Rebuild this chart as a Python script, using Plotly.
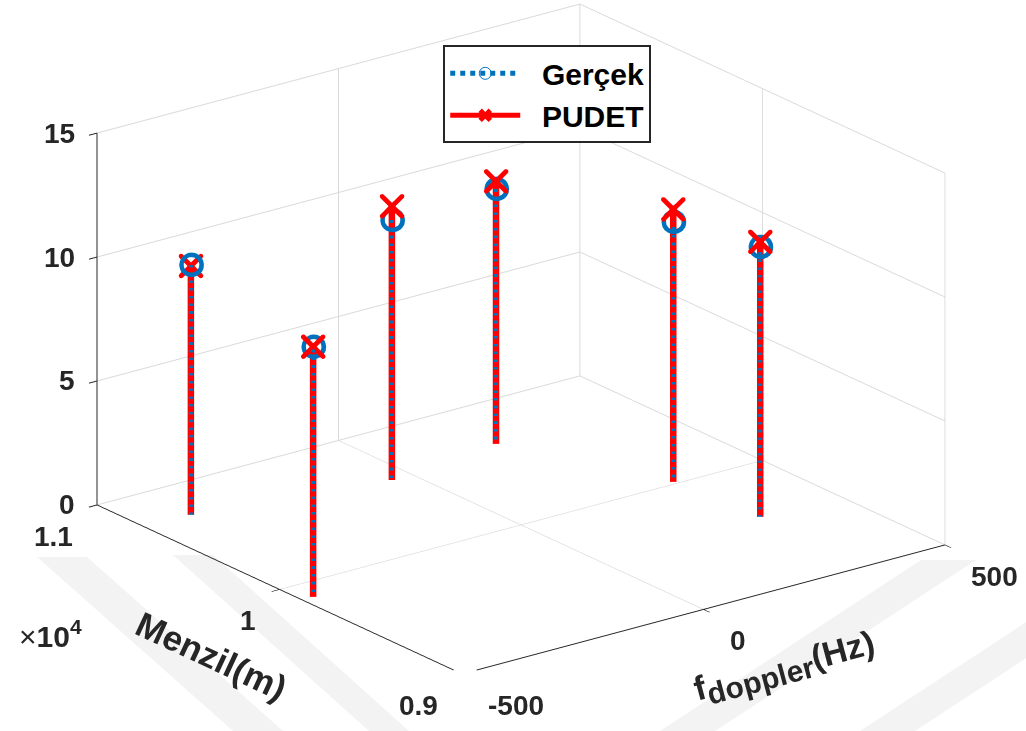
import plotly.graph_objects as go

# ---- data ----
doppler_hz = [-405, -477, -42, 197, 322, 337]
menzil_m = [10737, 9877, 10596, 10658, 10018, 9581]
gercek = [10.1, 10.1, 10.5, 10.3, 10.5, 10.9]
pudet = [10.05, 10.1, 11.05, 10.6, 11.0, 11.1]

x_ticks = [-500, 0, 500]
x_ticktext = ["-500", "0", "500"]
y_ticks = [9000, 10000, 11000]
y_ticktext = ["0.9", "1", "1.1"]
z_ticks = [0, 5, 10, 15]
z_ticktext = ["0", "5", "10", "15"]

X_RANGE = [-500, 500]
Y_RANGE = [9000, 11000]
Z_RANGE = [0, 15]

BLUE = "#0072BD"
RED = "#FF0000"
INK = "#262626"
FONT = "Liberation Sans"
NB = "\u00a0"

# ---- view / scene geometry ----
r = 0.943
eye_dir = (-0.5663, -0.7454, 0.3517)
S = 1.789
ASPECT = dict(x=1 * S, y=0.995 * S, z=0.655 * S)

# tiny depth offset (toward the camera) so the dotted blue stems are not
# hidden by the coincident red stems in the WebGL depth test
EPS = 0.008
units_x = (X_RANGE[1] - X_RANGE[0]) / ASPECT["x"]
units_y = (Y_RANGE[1] - Y_RANGE[0]) / ASPECT["y"]
units_z = (Z_RANGE[1] - Z_RANGE[0]) / ASPECT["z"]
dxn, dyn, dzn = (eye_dir[0] * EPS * units_x, eye_dir[1] * EPS * units_y,
                 eye_dir[2] * EPS * units_z)


def stems(xs, ys, zs, ox=0.0, oy=0.0, oz=0.0):
    sx, sy, sz = [], [], []
    for a, b, c in zip(xs, ys, zs):
        sx += [a + ox, a + ox, None]
        sy += [b + oy, b + oy, None]
        sz += [0 + oz, c + oz, None]
    return sx, sy, sz


def gapped(vals):
    out = []
    for v in vals:
        out += [v, None]
    return out


fig = go.Figure()

px_, py_, pz_ = stems(doppler_hz, menzil_m, pudet)
gx_, gy_, gz_ = stems(doppler_hz, menzil_m, gercek, dxn, dyn, dzn)

fig.add_trace(go.Scatter3d(x=px_, y=py_, z=pz_, mode="lines",
                           line=dict(color=RED, width=13), showlegend=False,
                           hoverinfo="skip"))
fig.add_trace(go.Scatter3d(x=gx_, y=gy_, z=gz_, mode="lines",
                           line=dict(color=BLUE, width=8, dash="dot"),
                           showlegend=False, hoverinfo="skip"))
# thick open circles (stacked rings)
for s in [11, 12.5, 14]:
    fig.add_trace(go.Scatter3d(x=doppler_hz, y=menzil_m, z=gercek, mode="markers",
                               marker=dict(symbol="circle-open", size=s, color=BLUE),
                               showlegend=False, hoverinfo="skip"))
fig.add_trace(go.Scatter3d(x=gapped(doppler_hz), y=gapped(menzil_m), z=gapped(gercek),
                           mode="lines+markers", name=NB + NB + "Gerçek",
                           line=dict(color=BLUE, width=5, dash="dot"),
                           marker=dict(symbol="circle-open", size=12, color=BLUE)))
fig.add_trace(go.Scatter3d(x=doppler_hz, y=menzil_m, z=pudet, mode="markers",
                           marker=dict(symbol="x", size=5.6, color=RED),
                           showlegend=False, hoverinfo="skip"))
fig.add_trace(go.Scatter3d(x=gapped(doppler_hz), y=gapped(menzil_m), z=gapped(pudet),
                           mode="lines+markers", name=NB + NB + "PUDET",
                           line=dict(color=RED, width=6),
                           marker=dict(symbol="x", size=5.2, color=RED)))

axis_common = dict(
    showgrid=True, gridcolor="#d9d9d9", gridwidth=2,
    showline=True, linecolor=INK, linewidth=2,
    ticks="outside", ticklen=10, tickcolor=INK, tickwidth=2,
    showticklabels=False,
    showbackground=False, zeroline=False, showspikes=False,
    title=dict(text=""),
)

tick_font = dict(family=FONT, size=28, color=INK, weight="bold")
scene_ann = []
for v, t in zip(z_ticks, z_ticktext):
    scene_ann.append(dict(x=X_RANGE[0], y=Y_RANGE[1], z=v, text=t, showarrow=False,
                          xanchor="right", yanchor="middle", xshift=-20,
                          font=tick_font))
for v, t in zip(y_ticks, y_ticktext):
    scene_ann.append(dict(x=X_RANGE[0], y=v, z=Z_RANGE[0], text=t, showarrow=False,
                          xanchor="right", yanchor="top", xshift=-22, yshift=-14,
                          font=tick_font))
for v, t in zip(x_ticks, x_ticktext):
    scene_ann.append(dict(x=v, y=Y_RANGE[0], z=Z_RANGE[0], text=t, showarrow=False,
                          xanchor="left", yanchor="top", xshift=24, yshift=-14,
                          font=tick_font))

# faint watermark bands (background decoration)
WM = "#f3f3f3"


def band(x0, y0, x1, y1, w):
    return dict(type="path", xref="paper", yref="paper", layer="below",
                path=(f"M {x0/1026:.4f} {1-y0/731:.4f} L {(x0+w)/1026:.4f} {1-y0/731:.4f} "
                      f"L {(x1+w)/1026:.4f} {1-y1/731:.4f} L {x1/1026:.4f} {1-y1/731:.4f} Z"),
                fillcolor=WM, line=dict(width=0))


shapes = [band(37, 557, 233, 731, 50), band(173, 555, 369, 731, 40),
          band(660, 731, 921, 560, 55), band(860, 731, 1060, 600, 55)]

fig.update_layout(
    width=1026, height=731,
    margin=dict(l=0, r=0, t=0, b=0),
    paper_bgcolor="white",
    plot_bgcolor="rgba(0,0,0,0)",
    font=dict(family=FONT, color=INK),
    shapes=shapes,
    scene=dict(
        domain=dict(x=[0.0156, 1.0], y=[0.0726, 1.0]),
        xaxis=dict(range=X_RANGE, tickvals=x_ticks, **axis_common),
        yaxis=dict(range=Y_RANGE, tickvals=y_ticks, **axis_common),
        zaxis=dict(range=Z_RANGE, tickvals=z_ticks, **axis_common),
        aspectmode="manual",
        aspectratio=ASPECT,
        camera=dict(projection=dict(type="orthographic"),
                    eye=dict(x=eye_dir[0] * r, y=eye_dir[1] * r, z=eye_dir[2] * r),
                    up=dict(x=0, y=0, z=1), center=dict(x=0, y=0, z=0)),
        bgcolor="rgba(0,0,0,0)",
        annotations=scene_ann,
    ),
    legend=dict(x=0.432, y=0.938, xanchor="left", yanchor="top",
                bgcolor="white", bordercolor=INK, borderwidth=2, itemwidth=70,
                itemsizing="constant",
                font=dict(family=FONT, size=30, color="black", weight="bold")),
    annotations=[
        dict(text="Menzil(m)", x=211 / 1026, y=1 - 655 / 731, xref="paper", yref="paper",
             xanchor="center", yanchor="middle",
             showarrow=False, textangle=25,
             font=dict(family=FONT, size=35, color=INK, weight="bold")),
        dict(text="f<sub><span style='font-size:30px'>doppler</span></sub>(Hz)",
             x=785 / 1026, y=1 - 668 / 731, xanchor="center", yanchor="middle",
             xref="paper", yref="paper", showarrow=False, textangle=-15,
             font=dict(family=FONT, size=34, color=INK, weight="bold")),
        dict(text="×<b>10<sup>4</sup></b>", x=50 / 1026, y=1 - 634 / 731,
             xanchor="center", yanchor="middle",
             xref="paper", yref="paper", showarrow=False,
             font=dict(family=FONT, size=30, color=INK)),
    ],
)

fig.write_html("out.html")
